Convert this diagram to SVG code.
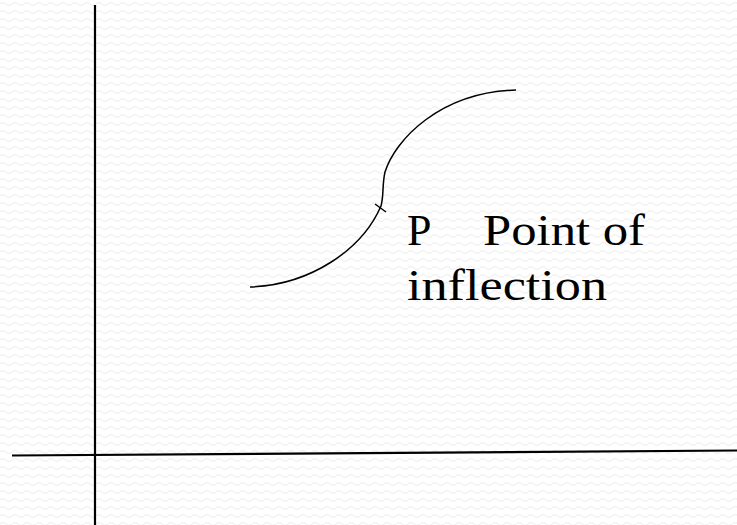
<svg xmlns="http://www.w3.org/2000/svg" width="737" height="525" viewBox="0 0 737 525">
<defs>
<pattern id="wave" width="12" height="8" patternUnits="userSpaceOnUse">
<path d="M0,4 Q3,1 6,4 T12,4" fill="none" stroke="#f1f1f1" stroke-width="1.2"/>
</pattern>
<style>
.ax{stroke:#000;stroke-width:2.2;fill:none}
.cv{stroke:#000;stroke-width:1.5;fill:none}
.lbl{font-family:"Liberation Serif","DejaVu Serif",serif;font-size:44px;fill:#000}
</style>
</defs>
<rect width="737" height="525" fill="#fff"/>
<rect width="737" height="525" fill="url(#wave)"/>
<g id="connectors">
<line class="ax" x1="95" y1="5" x2="95" y2="525"/>
<line class="ax" x1="12" y1="455.5" x2="737" y2="450.5"/>
</g>
<g id="curve">
<path class="cv" d="M250,287 C310,285 362,250 381,206 C384,195 382,185 385,172 C395,140 440,92 516,90"/>
<line class="cv" x1="375" y1="204" x2="386" y2="212"/>
</g>
<g id="label">
<text class="lbl" x="407" y="245">P</text>
<text class="lbl" x="483" y="245" textLength="162" lengthAdjust="spacingAndGlyphs">Point of</text>
<text class="lbl" x="407" y="300" textLength="200" lengthAdjust="spacingAndGlyphs">inflection</text>
</g>
</svg>
